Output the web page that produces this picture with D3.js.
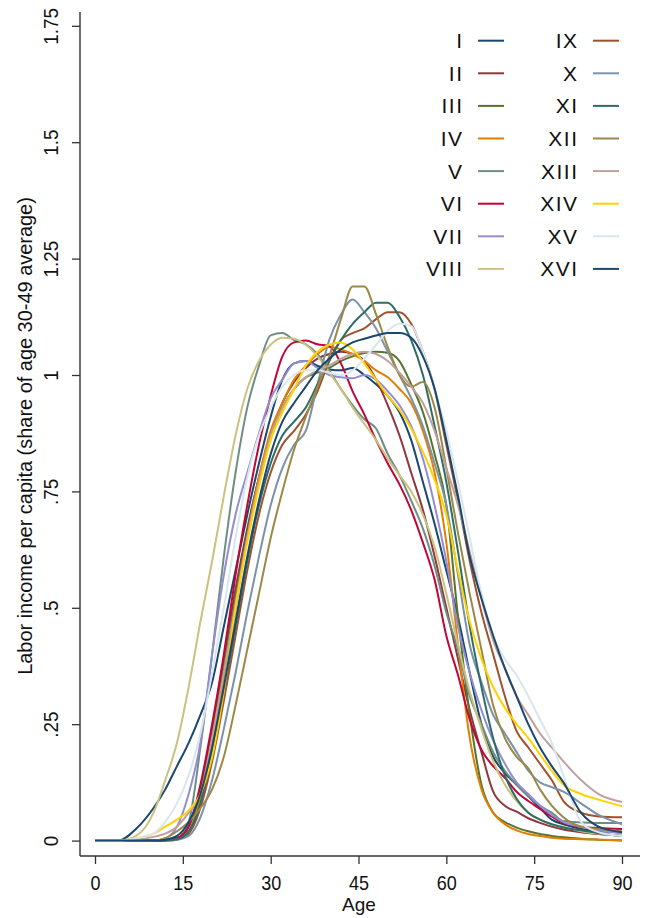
<!DOCTYPE html>
<html>
<head>
<meta charset="utf-8">
<script src="https://cdn.jsdelivr.net/npm/d3@7"></script>
<style>
  body { margin: 0; background: #fff; }
  text { font-family: "Liberation Sans", Arial, sans-serif; fill: #111; }
</style>
</head>
<body>
<svg id="chart" width="646" height="918"></svg>
<script>
const ages = [0, 4, 7, 10, 12, 14, 16, 18, 20, 22, 24, 26, 28, 30, 32, 34, 36, 38, 40, 42, 44, 46, 48, 50,
  52, 54, 56, 58, 60, 62, 64, 66, 68, 70, 72, 74, 76, 78, 80, 83, 86, 90];

const vI = [0, 0, 0.025, 0.07, 0.11, 0.16, 0.21, 0.27, 0.34, 0.46, 0.58, 0.70, 0.81, 0.91, 0.99, 1.025, 1.03, 1.02,
  1.012, 1.01, 1.015, 1.0, 0.98, 0.955, 0.92, 0.86, 0.77, 0.68, 0.58, 0.48, 0.36, 0.25, 0.18, 0.145, 0.12, 0.095,
  0.07, 0.045, 0.035, 0.025, 0.02, 0.018];
const vII = [0, 0, 0, 0, 0.001, 0.005, 0.03, 0.11, 0.24, 0.39, 0.54, 0.67, 0.78, 0.87, 0.94, 0.985, 1.015, 1.035,
  1.045, 1.05, 1.045, 1.03, 0.99, 0.935, 0.87, 0.79, 0.71, 0.61, 0.50, 0.39, 0.28, 0.19, 0.105, 0.075, 0.062, 0.048,
  0.038, 0.03, 0.024, 0.018, 0.014, 0.01];
const vIII = [0, 0, 0, 0, 0.001, 0.005, 0.03, 0.10, 0.22, 0.37, 0.52, 0.66, 0.78, 0.87, 0.93, 0.97, 0.995, 1.005,
  1.015, 1.03, 1.04, 1.047, 1.05, 1.048, 1.03, 0.98, 0.92, 0.83, 0.72, 0.48, 0.27, 0.12, 0.06, 0.04, 0.028, 0.02,
  0.014, 0.01, 0.007, 0.004, 0.002, 0];
const vIV = [0, 0, 0, 0, 0.001, 0.003, 0.02, 0.09, 0.21, 0.35, 0.50, 0.65, 0.78, 0.88, 0.94, 0.99, 1.02, 1.045,
  1.06, 1.055, 1.045, 1.03, 1.01, 0.995, 0.97, 0.94, 0.88, 0.79, 0.64, 0.42, 0.22, 0.11, 0.06, 0.035, 0.022, 0.014,
  0.01, 0.006, 0.004, 0.003, 0.002, 0.001];
const vV = [0, 0, 0, 0, 0, 0.005, 0.04, 0.20, 0.40, 0.61, 0.79, 0.93, 1.02, 1.085, 1.09, 1.075, 1.066, 1.045,
  1.01, 0.97, 0.935, 0.905, 0.885, 0.83, 0.785, 0.73, 0.67, 0.59, 0.49, 0.41, 0.31, 0.25, 0.19, 0.15, 0.12, 0.095,
  0.075, 0.06, 0.042, 0.039, 0.038, 0.038];
const vVI = [0, 0, 0, 0, 0, 0.005, 0.03, 0.12, 0.25, 0.40, 0.57, 0.72, 0.85, 0.955, 1.04, 1.07, 1.074, 1.066,
  1.062, 1.025, 0.965, 0.915, 0.86, 0.81, 0.765, 0.71, 0.64, 0.56, 0.44, 0.355, 0.26, 0.195, 0.16, 0.135, 0.105,
  0.085, 0.068, 0.052, 0.038, 0.03, 0.027, 0.025];
const vVII = [0, 0, 0, 0, 0.005, 0.03, 0.10, 0.21, 0.40, 0.57, 0.70, 0.79, 0.875, 0.95, 0.99, 1.025, 1.03, 1.015,
  1.0, 0.995, 0.993, 1.0, 0.99, 0.965, 0.935, 0.89, 0.82, 0.72, 0.60, 0.46, 0.36, 0.28, 0.215, 0.165, 0.125, 0.10,
  0.075, 0.055, 0.04, 0.03, 0.022, 0.015];
const vVIII = [0, 0, 0.01, 0.06, 0.13, 0.21, 0.33, 0.47, 0.60, 0.74, 0.87, 0.97, 1.03, 1.065, 1.08, 1.078, 1.065,
  1.04, 1.005, 0.97, 0.93, 0.895, 0.86, 0.82, 0.785, 0.75, 0.70, 0.63, 0.53, 0.42, 0.32, 0.24, 0.17, 0.12, 0.085,
  0.06, 0.045, 0.035, 0.03, 0.02, 0.015, 0.01];
const vIX = [0, 0, 0, 0, 0, 0.002, 0.015, 0.07, 0.17, 0.30, 0.44, 0.58, 0.70, 0.79, 0.85, 0.88, 0.915, 0.965,
  1.03, 1.075, 1.09, 1.10, 1.12, 1.135, 1.135, 1.11, 1.05, 0.97, 0.85, 0.73, 0.60, 0.49, 0.40, 0.31, 0.235, 0.20,
  0.165, 0.13, 0.085, 0.06, 0.052, 0.05];
const vX = [0, 0, 0, 0, 0, 0.002, 0.01, 0.05, 0.13, 0.24, 0.36, 0.49, 0.61, 0.72, 0.80, 0.85, 0.88, 0.98, 1.075,
  1.13, 1.162, 1.135, 1.10, 1.05, 1.0, 0.95, 0.89, 0.81, 0.72, 0.57, 0.42, 0.34, 0.27, 0.23, 0.19, 0.15, 0.125,
  0.115, 0.105, 0.08, 0.055, 0.035];
const vXI = [0, 0, 0, 0, 0.001, 0.003, 0.02, 0.08, 0.19, 0.32, 0.46, 0.60, 0.72, 0.81, 0.87, 0.90, 0.93, 0.98,
  1.03, 1.075, 1.11, 1.135, 1.155, 1.155, 1.125, 1.075, 1.0, 0.89, 0.77, 0.62, 0.46, 0.33, 0.22, 0.14, 0.09, 0.06,
  0.045, 0.035, 0.028, 0.022, 0.016, 0.01];
const vXII = [0, 0, 0, 0, 0.005, 0.02, 0.04, 0.07, 0.11, 0.18, 0.29, 0.41, 0.53, 0.65, 0.75, 0.84, 0.91, 0.975,
  1.04, 1.12, 1.19, 1.19, 1.13, 1.06, 1.0, 0.975, 0.985, 0.93, 0.80, 0.66, 0.53, 0.41, 0.29, 0.22, 0.18, 0.155,
  0.11, 0.075, 0.05, 0.03, 0.025, 0.02];
const vXIII = [0, 0, 0.002, 0.008, 0.015, 0.03, 0.06, 0.10, 0.22, 0.36, 0.51, 0.65, 0.77, 0.87, 0.93, 0.97, 0.995,
  1.01, 1.02, 1.035, 1.045, 1.05, 1.045, 1.03, 1.005, 0.975, 0.94, 0.88, 0.80, 0.72, 0.62, 0.52, 0.43, 0.37, 0.31,
  0.27, 0.23, 0.20, 0.17, 0.13, 0.10, 0.083];
const vXIV = [0, 0, 0.005, 0.015, 0.03, 0.045, 0.065, 0.10, 0.18, 0.32, 0.50, 0.64, 0.76, 0.86, 0.92, 0.97, 1.02,
  1.05, 1.065, 1.07, 1.055, 1.025, 0.99, 0.955, 0.925, 0.885, 0.835, 0.775, 0.70, 0.58, 0.47, 0.39, 0.33, 0.285,
  0.25, 0.22, 0.185, 0.15, 0.12, 0.10, 0.088, 0.074];
const vXV = [0, 0, 0.005, 0.015, 0.04, 0.08, 0.14, 0.23, 0.36, 0.50, 0.65, 0.78, 0.87, 0.93, 0.975, 1.0, 1.01,
  1.01, 1.005, 1.0, 1.01, 1.035, 1.065, 1.095, 1.11, 1.105, 1.05, 0.97, 0.88, 0.77, 0.65, 0.53, 0.44, 0.39, 0.355,
  0.31, 0.26, 0.21, 0.14, 0.04, 0.018, 0.01];
const vXVI = [0, 0, 0, 0, 0.002, 0.01, 0.04, 0.10, 0.20, 0.33, 0.47, 0.61, 0.73, 0.83, 0.90, 0.94, 0.975, 1.01,
  1.035, 1.055, 1.07, 1.078, 1.085, 1.09, 1.09, 1.08, 1.04, 0.97, 0.86, 0.74, 0.61, 0.52, 0.44, 0.37, 0.31, 0.25,
  0.20, 0.16, 0.125, 0.06, 0.03, 0.018];

const names = ["I", "II", "III", "IV", "V", "VI", "VII", "VIII",
  "IX", "X", "XI", "XII", "XIII", "XIV", "XV", "XVI"];
const values = [vI, vII, vIII, vIV, vV, vVI, vVII, vVIII, vIX, vX, vXI, vXII, vXIII, vXIV, vXV, vXVI];
const colors = ["#1a476f", "#90353b", "#55752f", "#e37e00", "#6e8e84", "#c10534", "#938dd2", "#cac27e",
  "#a0522d", "#7b92a8", "#2d6d66", "#9c8847", "#bfa19c", "#ffd200", "#d9e6eb", "#1a476f"];

const xTicks = [0, 15, 30, 45, 60, 75, 90];
const yTicks = [0, 0.25, 0.5, 0.75, 1, 1.25, 1.5, 1.75];
const yTickLabels = ["0", ".25", ".5", ".75", "1", "1.25", "1.5", "1.75"];

const svg = d3.select("#chart");

const x = d3.scaleLinear().domain([0, 90]).range([95, 622]);
const y = d3.scaleLinear().domain([0, 1.75]).range([840.6, 25.8]);

const axisColor = "#333";

// axis frame lines
svg.append("line")
  .attr("x1", 80).attr("x2", 80).attr("y1", 12).attr("y2", 856)
  .attr("stroke", axisColor).attr("stroke-width", 1.4);
svg.append("line")
  .attr("x1", 80).attr("x2", 640).attr("y1", 856).attr("y2", 856)
  .attr("stroke", axisColor).attr("stroke-width", 1.4);

const yAxis = d3.axisLeft(y)
  .tickValues(yTicks)
  .tickSize(8)
  .tickFormat((d, i) => yTickLabels[i]);

const gy = svg.append("g").attr("transform", "translate(80,0)").call(yAxis);
gy.select(".domain").remove();
gy.selectAll("line").attr("stroke", axisColor).attr("stroke-width", 1.3);
gy.selectAll("text")
  .attr("x", null).attr("dy", null)
  .attr("text-anchor", "middle")
  .attr("transform", "translate(-22,0) rotate(-90) scale(0.9,1)")
  .style("font-size", "21px")
  .attr("fill", "#111");

const xAxis = d3.axisBottom(x).tickValues(xTicks).tickSize(8);
const gx = svg.append("g").attr("transform", "translate(0,856)").call(xAxis);
gx.select(".domain").remove();
gx.selectAll("line").attr("stroke", axisColor).attr("stroke-width", 1.3);
gx.selectAll("text")
  .attr("y", null).attr("dy", null)
  .attr("transform", "translate(0,34) scale(0.9,1)")
  .style("font-size", "20px")
  .attr("fill", "#111");

// titles
svg.append("text")
  .attr("x", 359).attr("y", 911)
  .attr("text-anchor", "middle")
  .style("font-size", "19px")
  .text("Age");

svg.append("text")
  .attr("transform", "translate(32,436) rotate(-90) scale(0.95,1)")
  .attr("text-anchor", "middle")
  .style("font-size", "21px")
  .text("Labor income per capita (share of age 30-49 average)");

// profiles
const line = d3.line()
  .x((d, i) => x(ages[i]))
  .y(d => y(d))
  .curve(d3.curveMonotoneX);

svg.append("g")
  .selectAll("path")
  .data(values)
  .join("path")
  .attr("d", line)
  .attr("fill", "none")
  .attr("stroke", (d, i) => colors[i])
  .attr("stroke-width", 2)
  .attr("stroke-linejoin", "round");

// legend, two columns of eight
const legend = svg.append("g")
  .selectAll("g")
  .data(names)
  .join("g")
  .attr("transform", (d, i) => {
    const col = Math.floor(i / 8), row = i % 8;
    return `translate(${col ? 577 : 462},${40.7 + row * 32.6})`;
  });

legend.append("text")
  .attr("x", 1.5).attr("y", 7.5)
  .attr("text-anchor", "end")
  .style("font-size", "21px")
  .style("letter-spacing", "1.5px")
  .text(d => d);

legend.append("line")
  .attr("x1", 16)
  .attr("x2", 42)
  .attr("stroke", (d, i) => colors[i])
  .attr("stroke-width", 2);
</script>
</body>
</html>
